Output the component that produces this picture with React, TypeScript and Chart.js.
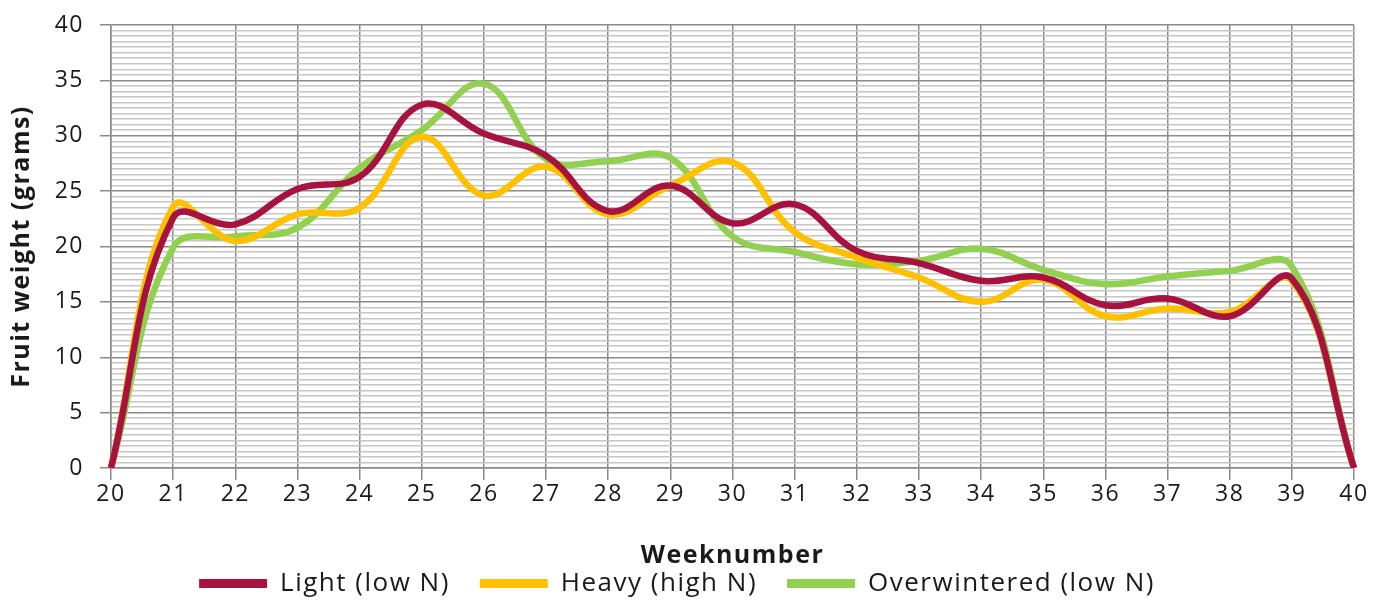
import React, { useEffect, useRef } from "react";
import { Chart, registerables } from "chart.js";

Chart.register(...registerables);

const weeks = ["20", "21", "22", "23", "24", "25", "26", "27", "28", "29", "30", "31", "32", "33", "34", "35", "36", "37", "38", "39", "40"];
const lightLowN = [0, 22.6, 22.0, 25.2, 26.3, 32.8, 30.2, 28.2, 23.2, 25.5, 22.1, 23.8, 19.6, 18.5, 16.9, 17.2, 14.7, 15.3, 13.7, 17.1, 0];
const heavyHighN = [0, 23.6, 20.5, 22.9, 23.5, 29.9, 24.6, 27.2, 22.9, 25.5, 27.6, 21.3, 19.0, 17.2, 15.0, 17.0, 13.7, 14.4, 14.1, 16.9, 0];
const overwinteredLowN = [0, 19.9, 20.9, 21.7, 27.1, 30.5, 34.7, 27.9, 27.7, 28.0, 20.9, 19.5, 18.4, 18.7, 19.8, 17.9, 16.6, 17.3, 17.8, 18.2, 0];

const seriesNames = ["Light (low N)", "Heavy (high N)", "Overwintered (low N)"];
const seriesColors = ["#A8123F", "#FFC000", "#92D050"];
const xTitle = "Weeknumber";
const yTitle = "Fruit weight (grams)";

const FONT = "'Open Sans', sans-serif";
const MAJOR = "#8a8a8a";
const MINOR = "#c6c6c6";
const TEXT = "#1a1a1a";

const spacingPlugin = {
  id: "letterSpacing",
  beforeUpdate(chart: any) {
    try { chart.ctx.letterSpacing = "1.5px"; } catch (e) {}
  },
  beforeDraw(chart: any) {
    try { chart.ctx.letterSpacing = "1.5px"; } catch (e) {}
  },
};

export default function App() {
  const ref = useRef<HTMLCanvasElement | null>(null);

  useEffect(() => {
    if (!ref.current) return;
    const values = [lightLowN, heavyHighN, overwinteredLowN];
    const chart = new Chart(ref.current, {
      type: "line",
      data: {
        labels: weeks,
        datasets: values.map((v, i) => ({
          label: seriesNames[i],
          data: v,
          borderColor: seriesColors[i],
          backgroundColor: seriesColors[i],
          borderWidth: 6.5,
          pointRadius: 0,
          tension: 0.4,
          fill: false,
        })),
      },
      plugins: [spacingPlugin],
      options: {
        animation: false,
        responsive: false,
        maintainAspectRatio: false,
        layout: { padding: { left: 0, right: 33, top: 25, bottom: -5.5 } },
        plugins: {
          tooltip: { enabled: false },
          legend: {
            position: "bottom",
            labels: {
              boxWidth: 68,
              boxHeight: 9,
              padding: 30,
              color: TEXT,
              font: { family: FONT, size: 26 },
              generateLabels: (ch: any) =>
                ch.data.datasets.map((d: any, i: number) => ({
                  text: d.label,
                  fillStyle: d.borderColor,
                  strokeStyle: d.borderColor,
                  lineWidth: 0,
                  hidden: false,
                  datasetIndex: i,
                  fontColor: TEXT,
                })),
            },
          },
        },
        scales: {
          x: {
            type: "category",
            offset: false,
            grid: { color: MAJOR, lineWidth: 1.5, tickLength: 12, tickColor: MAJOR },
            border: { color: MAJOR, width: 1.5 },
            ticks: { color: TEXT, font: { family: FONT, size: 23 }, maxRotation: 0, autoSkip: false, padding: 1 },
            title: {
              display: true,
              text: xTitle,
              color: TEXT,
              font: { family: FONT, size: 25, weight: "bold" },
              padding: { top: 0, bottom: -30.5 },
            },
            afterFit: (s: any) => { s.height = 72.5; },
          },
          y: {
            min: 0,
            max: 40,
            grid: {
              color: (c: any) => (c.tick && c.tick.value % 5 === 0 ? MAJOR : MINOR),
              lineWidth: 1.5,
              tickLength: 11,
              tickColor: (c: any) => (c.tick && c.tick.value % 5 === 0 ? MAJOR : "rgba(0,0,0,0)"),
            },
            border: { color: MAJOR, width: 1.5 },
            ticks: {
              stepSize: 0.5,
              autoSkip: false,
              color: TEXT,
              font: { family: FONT, size: 23 },
              padding: 16,
              callback: (v: any) => (Number(v) % 5 === 0 ? String(v) : ""),
            },
            title: {
              display: true,
              text: yTitle,
              color: TEXT,
              font: { family: FONT, size: 25, weight: "bold" },
              padding: { top: 7, bottom: 0 },
            },
            afterFit: (s: any) => {
              s.width = 111;
              s.paddingTop = 0;
              s.paddingBottom = 0;
            },
          },
        },
      },
    });
    return () => chart.destroy();
  }, []);

  return (
    <div style={{ position: "absolute", left: 0, top: 0, width: 1387, height: 601, background: "#fff" }}>
      <canvas ref={ref} width={1387} height={601} style={{ width: 1387, height: 601, display: "block" }} />
    </div>
  );
}
